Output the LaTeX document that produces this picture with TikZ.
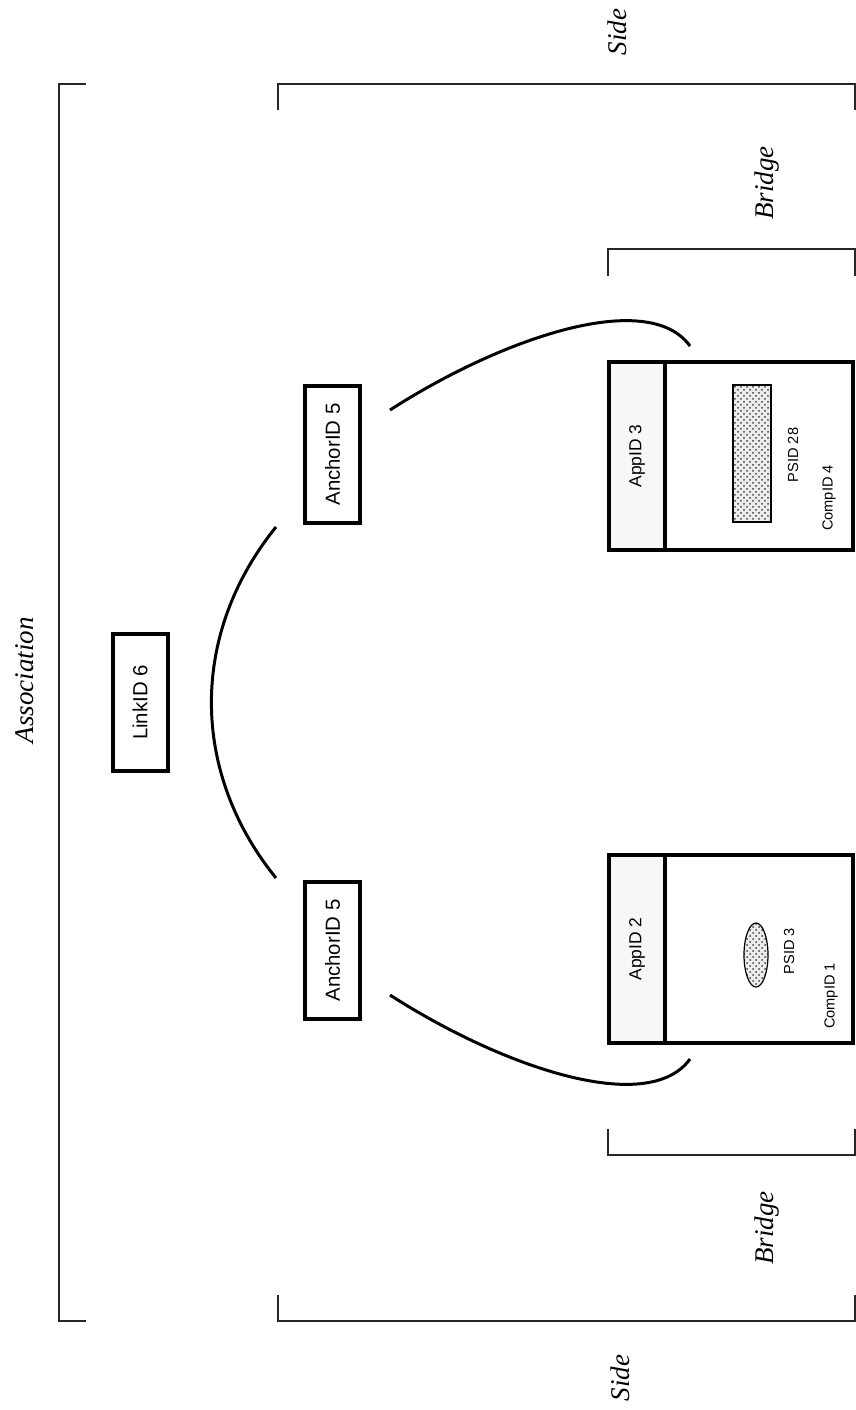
\documentclass[tikz,border=0pt]{standalone}
\usepackage{fontspec}
\setmainfont{Liberation Serif}
\newfontfamily\arialfont{Liberation Sans}
\usepackage{graphicx}
\usepackage{tikz}
\usetikzlibrary{shapes.geometric}
\usetikzlibrary{patterns}
\usetikzlibrary{calc}

\begin{document}
\begin{tikzpicture}[
    x=0.5pt, y=-0.5pt,
    idbox/.style={draw, line width=2pt, fill=white, minimum width=27.5pt, minimum height=68.5pt, inner sep=0pt, font=\arialfont\fontsize{10.2}{12}\selectfont},
    appbox/.style={draw, line width=2pt, fill=gray!6, minimum width=28pt, minimum height=94pt, inner sep=0pt, font=\arialfont\fontsize{8.7}{10}\selectfont},
    compbox/.style={draw, line width=2pt, fill=white, minimum width=94pt, minimum height=94pt, inner sep=0pt},
    small/.style={rotate=90, inner sep=0pt, font=\arialfont\fontsize{7.3}{9}\selectfont},
    psid/.style={draw, line width=0.6pt, preaction={fill=gray!15}, pattern=crosshatch dots, pattern color=black!75, inner sep=0pt},
    bracket/.style={line width=1pt, draw=black!85},
    tag/.style={rotate=90, inner sep=0pt, font=\fontsize{13.5}{16}\selectfont\itshape},
    link/.style={line width=1.5pt}
]
\path[use as bounding box] (0,0) rectangle (856,1410);

% brackets
\draw[bracket] (86,84) -- (59,84) -- (59,1321) -- (86,1321);
\draw[bracket] (278,110) -- (278,84) -- (855,84) -- (855,110);
\draw[bracket] (278,1295) -- (278,1321) -- (855,1321) -- (855,1295);
\draw[bracket] (608,276) -- (608,249) -- (855,249) -- (855,276);
\draw[bracket] (608,1129) -- (608,1155) -- (855,1155) -- (855,1129);

\node[tag] (assoc) at (25,680) {Association};
\node[tag] (side1) at (617,32) {Side};
\node[tag] (side2) at (620,1378) {Side};
\node[tag] (bridge1) at (767,183) {Bridge};
\node[tag] (bridge2) at (767,1228) {Bridge};

% link and anchors
\node[idbox] (link6) at (140,702.5) {\rotatebox{90}{LinkID 6}};
\node[idbox] (anc1) at (332.5,454.5) {\rotatebox{90}{AnchorID 5}};
\node[idbox] (anc2) at (332.5,950.5) {\rotatebox{90}{AnchorID 5}};

% upper component
\node[appbox] (app3) at (637,456) {\rotatebox{90}{AppID 3}};
\node[compbox] (comp4) at (759,456) {};
\node[psid, minimum width=19pt, minimum height=68.5pt] (ps28) at (752,453.5) {};
\node[small] (ps28lbl) at (793,455) {PSID 28};
\node[small] (comp4lbl) at (829,498) {CompID 4};

% lower component
\node[appbox] (app2) at (637,949) {\rotatebox{90}{AppID 2}};
\node[compbox] (comp1) at (759,949) {};
\node[psid, ellipse, minimum width=12pt, minimum height=32pt] (ps3) at (756,955) {};
\node[small] (ps3lbl) at (789,951) {PSID 3};
\node[small] (comp1lbl) at (831,996) {CompID 1};

% arcs
\draw[link] ($(anc1.south west)+(-27,2)$) to[out=231, in=129] ($(anc2.north west)+(-27,-2)$);
\draw[link] ($(anc1.north east)+(28,26)$) .. controls +(112,-72) and +(-42,-58) .. ($(comp4.north west)+(27,-14)$);
\draw[link] ($(anc2.south east)+(28,-26)$) .. controls +(112,72) and +(-42,58) .. ($(comp1.south west)+(27,14)$);
\end{tikzpicture}
\end{document}
